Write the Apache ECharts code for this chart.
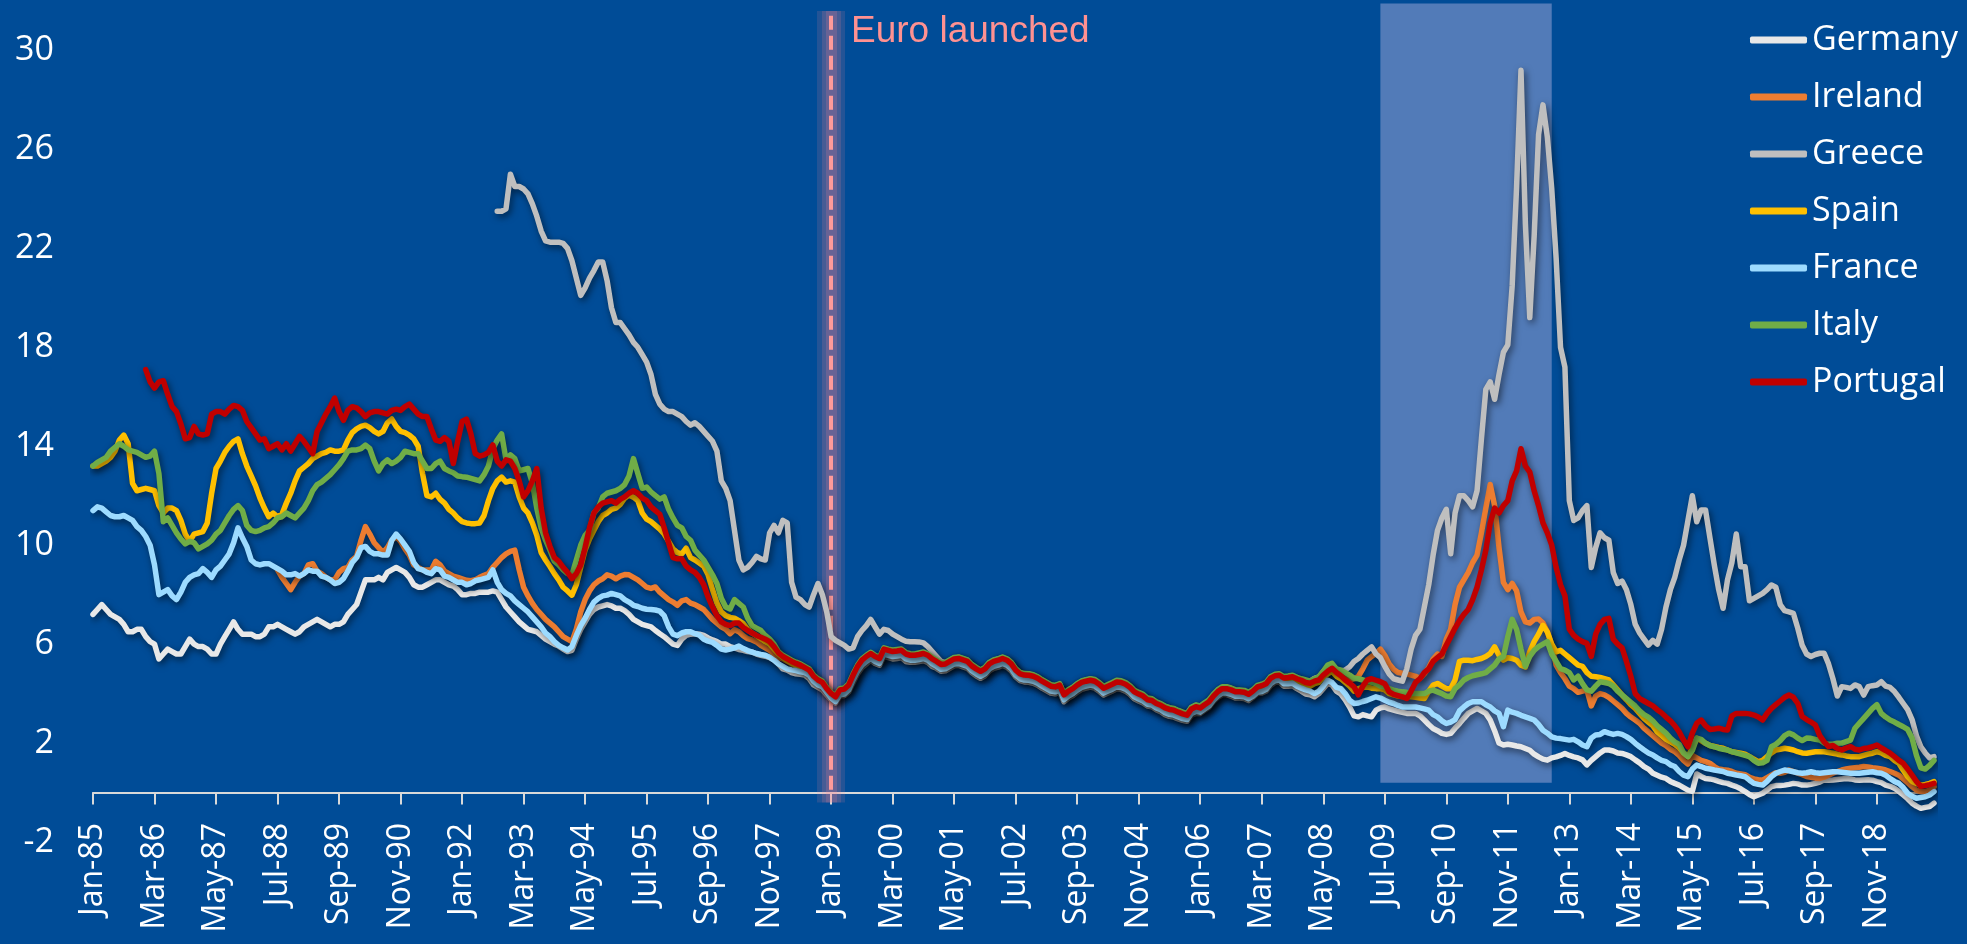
<!DOCTYPE html>
<html>
<head>
<meta charset="utf-8">
<title>10-year government bond yields</title>
<script src="https://cdn.jsdelivr.net/npm/echarts@6/dist/echarts.min.js"></script>
<style>
html, body { margin: 0; padding: 0; background: #004C97; }
#chart { width: 1967px; height: 944px; }
</style>
</head>
<body>
<div id="chart"></div>
<script>
// monthly categories Jan-85 .. Dec-19
var monthNames = ['Jan','Feb','Mar','Apr','May','Jun','Jul','Aug','Sep','Oct','Nov','Dec'];
var categories = [];
for (var y = 1985; y <= 2019; y++) {
    for (var m = 0; m < 12; m++) {
        categories.push(monthNames[m] + '-' + String(y).slice(2));
    }
}

var countries = ['Germany', 'Ireland', 'Greece', 'Spain', 'France', 'Italy', 'Portugal'];
var colors = ['#E8E8E8', '#ED7D31', '#BFBFBF', '#FFC000', '#9DDBFF', '#70AD47', '#C00000'];

var euroLaunch = 'Jan-99';
var crisisStart = 'Jun-09';
var crisisEnd = 'Sep-12';

var germany = [
 7.2, 7.4, 7.6, 7.4, 7.2, 7.1, 7.0, 6.8, 6.5, 6.5, 6.6, 6.6,
 6.3, 6.1, 6.0, 5.4, 5.6, 5.8, 5.7, 5.6, 5.6, 5.9, 6.2, 6.0,
 5.9, 5.9, 5.8, 5.6, 5.6, 6.0, 6.3, 6.6, 6.9, 6.6, 6.4, 6.4,
 6.4, 6.3, 6.3, 6.4, 6.7, 6.7, 6.8, 6.7, 6.6, 6.5, 6.4, 6.5,
 6.7, 6.8, 6.9, 7.0, 6.9, 6.8, 6.7, 6.8, 6.8, 6.9, 7.2, 7.4,
 7.6, 8.1, 8.6, 8.6, 8.6, 8.7, 8.6, 8.9, 9.0, 9.1, 9.0, 8.9,
 8.7, 8.4, 8.3, 8.3, 8.4, 8.5, 8.6, 8.6, 8.5, 8.4, 8.35, 8.2,
 8.0, 8.0, 8.05, 8.05, 8.1, 8.1, 8.1, 8.15, 8.1, 7.8, 7.5, 7.3,
 7.1, 6.9, 6.75, 6.6, 6.55, 6.5, 6.35, 6.2, 6.1, 6.0, 5.92, 5.8,
 5.7, 5.75, 6.2, 6.6, 6.9, 7.2, 7.4, 7.5, 7.55, 7.6, 7.55, 7.45,
 7.45, 7.35, 7.2, 7.0, 6.9, 6.8, 6.75, 6.7, 6.55, 6.42, 6.3, 6.15,
 6.0, 5.95, 6.2, 6.35, 6.4, 6.42, 6.4, 6.35, 6.25, 6.17, 6.1, 6.0,
 6.0, 5.9, 5.85, 5.78, 5.75, 5.7, 5.68, 5.6, 5.55, 5.51, 5.45, 5.35,
 5.2, 5.0, 4.95, 4.85, 4.8, 4.78, 4.75, 4.6, 4.35, 4.25, 4.15, 3.95,
 3.75, 3.62, 3.9, 3.92, 4.08, 4.45, 4.8, 5.05, 5.2, 5.35, 5.22, 5.15,
 5.5, 5.45, 5.4, 5.42, 5.45, 5.3, 5.27, 5.27, 5.3, 5.33, 5.26, 5.1,
 5.02, 4.9, 4.92, 5.02, 5.12, 5.14, 5.08, 5.02, 4.85, 4.72, 4.62, 4.72,
 4.92, 5.02, 5.07, 5.14, 5.07, 4.92, 4.67, 4.52, 4.47, 4.46, 4.42, 4.34,
 4.22, 4.12, 4.02, 3.99, 4.06, 3.67, 3.82, 3.92, 4.06, 4.17, 4.22, 4.26,
 4.22, 4.1, 3.94, 4.02, 4.1, 4.19, 4.17, 4.1, 3.97, 3.79, 3.7, 3.62,
 3.5, 3.47, 3.35, 3.27, 3.15, 3.08, 3.05, 2.98, 2.92, 2.88, 3.12, 3.2,
 3.2, 3.33, 3.45, 3.68, 3.85, 3.96, 3.96, 3.9, 3.82, 3.82, 3.8, 3.72,
 3.85, 4.0, 4.02, 4.1, 4.32, 4.45, 4.48, 4.3, 4.3, 4.32, 4.2, 4.1,
 3.98, 3.95, 3.87, 4.0, 4.2, 4.41, 4.35, 4.1, 3.98, 3.75, 3.46, 3.1,
 3.06, 3.15, 3.1, 3.06, 3.33, 3.42, 3.46, 3.38, 3.33, 3.28, 3.24, 3.2,
 3.2, 3.2, 3.1, 2.93, 2.75, 2.59, 2.5, 2.39, 2.35, 2.39, 2.6, 2.79,
 3.0, 3.2, 3.3, 3.4, 3.3, 3.2, 2.93, 2.5, 2.0, 1.92, 1.95, 1.92,
 1.88, 1.85, 1.78, 1.71, 1.55, 1.44, 1.35, 1.31, 1.4, 1.44, 1.5, 1.58,
 1.5, 1.44, 1.4, 1.32, 1.12, 1.3, 1.45, 1.6, 1.72, 1.72, 1.68, 1.6,
 1.58, 1.52, 1.45, 1.32, 1.2, 1.05, 0.95, 0.78, 0.7, 0.62, 0.57, 0.45,
 0.37, 0.3, 0.2, 0.1, 0.05, 0.75, 0.65, 0.57, 0.55, 0.51, 0.45, 0.4,
 0.37, 0.3, 0.24, 0.15, 0.04, -0.08, -0.17, -0.1, -0.03, 0.1, 0.24, 0.28,
 0.28, 0.3, 0.33, 0.37, 0.35, 0.3, 0.3, 0.33, 0.37, 0.42, 0.51, 0.5,
 0.51, 0.53, 0.55, 0.57, 0.55, 0.51, 0.5, 0.51, 0.52, 0.5, 0.44, 0.4,
 0.3, 0.25, 0.17, 0.05, -0.1, -0.25, -0.43, -0.55, -0.64, -0.6, -0.57, -0.43
];

var ireland = [
 null, null, null, null, null, null, null, null, null, null, null, null,
 null, null, null, null, null, null, null, null, null, null, null, null,
 null, null, null, null, null, null, null, null, null, null, null, null,
 null, null, null, null, null, null, 9.0, 8.7, 8.45, 8.2, 8.5, 8.75,
 8.85, 9.2, 9.25, 8.95, 8.85, 8.7, 8.6, 8.6, 8.9, 9.05, 9.1, 9.4,
 9.55, 10.2, 10.75, 10.45, 10.1, 9.9, 9.7, 9.9, 10.2, 10.35, 10.15, 9.85,
 9.6, 9.2, 9.1, 9.0, 9.0, 9.0, 9.35, 9.2, 8.95, 8.85, 8.75, 8.7,
 8.64, 8.58, 8.56, 8.6, 8.7, 8.78, 8.85, 9.1, 9.3, 9.5, 9.65, 9.75,
 9.8, 9.0, 8.3, 7.95, 7.65, 7.4, 7.2, 7.0, 6.85, 6.7, 6.5, 6.3,
 6.2, 6.1, 6.6, 7.3, 7.8, 8.15, 8.4, 8.55, 8.64, 8.8, 8.75, 8.64,
 8.75, 8.81, 8.8, 8.7, 8.6, 8.45, 8.3, 8.25, 8.31, 8.1, 7.95, 7.8,
 7.7, 7.57, 7.75, 7.8, 7.66, 7.6, 7.5, 7.4, 7.2, 7.0, 6.85, 6.7,
 6.6, 6.42, 6.58, 6.5, 6.34, 6.22, 6.17, 6.09, 5.95, 5.85, 5.75, 5.6,
 5.45, 5.4, 5.3, 5.2, 5.12, 5.05, 4.97, 4.85, 4.58, 4.42, 4.33, 4.08,
 3.9, 3.75, 4.03, 4.06, 4.22, 4.63, 4.98, 5.22, 5.38, 5.5, 5.38, 5.3,
 5.68, 5.63, 5.58, 5.6, 5.63, 5.48, 5.43, 5.43, 5.46, 5.5, 5.43, 5.28,
 5.18, 5.06, 5.08, 5.18, 5.28, 5.3, 5.24, 5.18, 5.0, 4.88, 4.78, 4.88,
 5.08, 5.18, 5.23, 5.3, 5.23, 5.08, 4.83, 4.68, 4.63, 4.62, 4.58, 4.5,
 4.38, 4.28, 4.18, 4.15, 4.22, 3.83, 3.98, 4.08, 4.22, 4.33, 4.38, 4.42,
 4.38, 4.26, 4.1, 4.18, 4.26, 4.35, 4.33, 4.26, 4.13, 3.95, 3.86, 3.78,
 3.64, 3.61, 3.49, 3.42, 3.31, 3.25, 3.22, 3.14, 3.07, 3.02, 3.27, 3.36,
 3.31, 3.44, 3.56, 3.79, 3.97, 4.09, 4.09, 4.04, 3.96, 3.96, 3.94, 3.86,
 3.98, 4.14, 4.19, 4.27, 4.49, 4.59, 4.61, 4.5, 4.52, 4.55, 4.47, 4.41,
 4.35, 4.3, 4.4, 4.5, 4.72, 4.92, 5.0, 4.8, 4.7, 4.6, 4.55, 4.6,
 4.7, 5.0, 5.35, 5.5, 5.62, 5.8, 5.55, 5.2, 4.98, 4.85, 4.82, 4.8,
 4.75, 4.7, 4.62, 4.8, 5.05, 5.4, 5.6, 5.5, 6.2, 6.6, 7.6, 8.3,
 8.6, 8.9, 9.3, 9.6, 10.5, 11.5, 12.45, 11.6, 9.9, 8.5, 8.2, 8.45,
 8.15, 7.3, 6.9, 6.85, 7.0, 7.02, 6.85, 6.5, 5.95, 5.15, 4.85, 4.6,
 4.3, 4.2, 4.05, 4.1, 4.15, 3.5, 3.9, 4.0, 3.95, 3.85, 3.7, 3.55,
 3.4, 3.2, 3.05, 2.93, 2.8, 2.6, 2.45, 2.3, 2.15, 2.0, 1.9, 1.75,
 1.65, 1.5, 1.3, 1.15, 1.5, 1.4, 1.3, 1.25, 1.18, 1.05, 0.95, 0.92,
 0.9, 0.85, 0.78, 0.75, 0.72, 0.62, 0.55, 0.52, 0.5, 0.6, 0.7, 0.8,
 0.78, 0.82, 0.91, 0.85, 0.78, 0.72, 0.65, 0.62, 0.58, 0.57, 0.62, 0.7,
 0.78, 0.85, 0.91, 0.95, 0.98, 1.0, 1.02, 1.05, 1.03, 1.0, 0.98, 0.95,
 0.91, 0.85, 0.78, 0.7, 0.55, 0.4, 0.24, 0.1, 0.04, 0.03, 0.1, 0.24
];

var greece = [
 null, null, null, null, null, null, null, null, null, null, null, null,
 null, null, null, null, null, null, null, null, null, null, null, null,
 null, null, null, null, null, null, null, null, null, null, null, null,
 null, null, null, null, null, null, null, null, null, null, null, null,
 null, null, null, null, null, null, null, null, null, null, null, null,
 null, null, null, null, null, null, null, null, null, null, null, null,
 null, null, null, null, null, null, null, null, null, null, null, null,
 null, null, null, null, null, null, null, null, 23.5, 23.5, 23.6, 25.0,
 24.5, 24.5, 24.4, 24.2, 23.8, 23.3, 22.7, 22.3, 22.25, 22.25, 22.25, 22.2,
 22.0, 21.5, 20.8, 20.1, 20.4, 20.8, 21.1, 21.45, 21.45, 20.7, 19.6, 19.0,
 19.0, 18.75, 18.5, 18.2, 18.0, 17.7, 17.4, 16.9, 16.1, 15.7, 15.5, 15.4,
 15.4, 15.3, 15.2, 15.0, 14.85, 14.95, 14.8, 14.6, 14.4, 14.2, 13.8, 12.6,
 12.3, 11.8, 10.6, 9.4, 9.0, 9.1, 9.3, 9.55, 9.45, 9.4, 10.5, 10.8,
 10.5, 11.0, 10.9, 8.5, 7.9, 7.8, 7.6, 7.5, 8.0, 8.45, 8.0, 7.3,
 6.3, 6.15, 6.05, 5.95, 5.8, 5.85, 6.3, 6.55, 6.75, 7.0, 6.7, 6.4,
 6.6, 6.55, 6.4, 6.3, 6.2, 6.12, 6.1, 6.1, 6.09, 6.05, 5.9, 5.7,
 5.5, 5.3, 5.25, 5.34, 5.44, 5.46, 5.4, 5.34, 5.16, 5.04, 4.94, 5.04,
 5.24, 5.34, 5.39, 5.46, 5.39, 5.24, 4.99, 4.84, 4.79, 4.78, 4.74, 4.66,
 4.54, 4.44, 4.34, 4.31, 4.38, 3.99, 4.14, 4.24, 4.38, 4.49, 4.54, 4.58,
 4.54, 4.42, 4.26, 4.34, 4.42, 4.51, 4.49, 4.42, 4.29, 4.11, 4.02, 3.94,
 3.8, 3.77, 3.65, 3.58, 3.47, 3.41, 3.38, 3.3, 3.23, 3.18, 3.43, 3.52,
 3.47, 3.6, 3.72, 3.95, 4.13, 4.25, 4.25, 4.2, 4.12, 4.12, 4.1, 4.02,
 4.13, 4.3, 4.35, 4.43, 4.65, 4.75, 4.77, 4.66, 4.68, 4.71, 4.63, 4.57,
 4.5, 4.5, 4.62, 4.68, 4.88, 5.05, 5.12, 4.98, 4.92, 4.95, 5.08, 5.3,
 5.42, 5.6, 5.75, 5.89, 5.6, 5.45, 5.1, 4.8, 4.6, 4.55, 4.5, 5.0,
 5.8, 6.35, 6.6, 7.5, 8.4, 9.6, 10.6, 11.1, 11.45, 9.65, 11.3, 12.0,
 12.0, 11.8, 11.55, 12.2, 14.3, 16.3, 16.6, 15.9, 16.9, 17.8, 18.1, 20.5,
 24.5, 29.2, 23.0, 19.2, 22.5, 26.6, 27.8, 26.5, 24.4, 21.6, 18.0, 17.2,
 11.8, 11.0, 11.1, 11.4, 11.6, 9.1, 9.9, 10.5, 10.3, 10.2, 8.9, 8.45,
 8.55, 8.2, 7.6, 6.8, 6.45, 6.2, 5.96, 6.15, 6.0, 6.6, 7.5, 8.2,
 8.7, 9.4, 10.0, 11.0, 12.0, 10.95, 11.42, 11.42, 10.3, 9.2, 8.2, 7.45,
 8.6, 9.3, 10.45, 9.13, 9.13, 7.75, 7.85, 7.95, 8.05, 8.2, 8.39, 8.3,
 7.6, 7.35, 7.3, 7.24, 6.64, 5.95, 5.6, 5.5, 5.58, 5.63, 5.63, 5.2,
 4.6, 3.9, 4.28, 4.25, 4.21, 4.35, 4.28, 3.94, 4.28, 4.32, 4.35, 4.48,
 4.3, 4.25, 4.08, 3.85, 3.6, 3.35, 2.95, 2.3, 1.85, 1.6, 1.4, 1.45
];

var spain = [
 13.2, 13.2, 13.3, 13.4, 13.55, 13.8, 14.25, 14.45, 14.1, 12.5, 12.2, 12.25,
 12.3, 12.25, 12.2, 11.6, 11.3, 11.5, 11.5, 11.4, 11.0, 10.45, 10.15, 10.45,
 10.5, 10.55, 10.9, 12.1, 13.1, 13.4, 13.75, 14.0, 14.2, 14.3, 13.7, 13.2,
 12.8, 12.4, 11.9, 11.5, 11.15, 11.3, 11.15, 11.25, 11.7, 12.1, 12.6, 13.0,
 13.15, 13.3, 13.5, 13.6, 13.7, 13.75, 13.85, 13.8, 13.8, 13.85, 14.25, 14.55,
 14.7, 14.8, 14.85, 14.75, 14.6, 14.5, 14.6, 14.95, 15.1, 14.8, 14.6, 14.55,
 14.45, 14.3, 14.0, 12.9, 12.0, 11.95, 12.1, 11.85, 11.7, 11.45, 11.3, 11.1,
 10.95, 10.9, 10.87, 10.87, 10.9, 11.2, 11.8, 12.3, 12.6, 12.75, 12.55, 12.6,
 12.55, 11.95, 11.5, 11.3, 10.9, 10.4, 9.7, 9.4, 9.14, 8.85, 8.6, 8.3,
 8.15, 7.98, 8.4, 9.1, 9.8, 10.25, 10.6, 10.95, 11.2, 11.3, 11.45, 11.5,
 11.65, 11.9, 12.03, 11.94, 11.8, 11.3, 11.05, 10.95, 10.8, 10.65, 10.45, 10.15,
 9.85, 9.7, 9.65, 9.88, 9.5, 9.4, 9.28, 9.15, 8.8, 8.2, 7.66, 7.3,
 7.15, 7.08, 7.05, 6.95, 6.83, 6.6, 6.45, 6.34, 6.22, 6.1, 6.0, 5.8,
 5.6, 5.45, 5.33, 5.23, 5.15, 5.08, 5.0, 4.88, 4.62, 4.47, 4.37, 4.12,
 3.9, 3.77, 4.05, 4.08, 4.25, 4.65, 5.0, 5.25, 5.4, 5.52, 5.4, 5.32,
 5.7, 5.65, 5.6, 5.62, 5.65, 5.5, 5.45, 5.45, 5.48, 5.52, 5.45, 5.3,
 5.2, 5.08, 5.1, 5.2, 5.3, 5.32, 5.26, 5.2, 5.02, 4.9, 4.8, 4.9,
 5.1, 5.2, 5.25, 5.32, 5.25, 5.1, 4.85, 4.7, 4.65, 4.64, 4.6, 4.52,
 4.4, 4.3, 4.2, 4.17, 4.24, 3.85, 4.0, 4.1, 4.24, 4.35, 4.4, 4.44,
 4.4, 4.28, 4.12, 4.2, 4.28, 4.37, 4.35, 4.28, 4.15, 3.97, 3.88, 3.8,
 3.65, 3.62, 3.5, 3.43, 3.32, 3.26, 3.23, 3.15, 3.08, 3.03, 3.28, 3.37,
 3.32, 3.45, 3.57, 3.8, 3.98, 4.1, 4.1, 4.05, 3.97, 3.97, 3.95, 3.87,
 3.98, 4.14, 4.19, 4.27, 4.49, 4.59, 4.61, 4.5, 4.5, 4.52, 4.42, 4.35,
 4.35, 4.3, 4.4, 4.45, 4.65, 4.8, 4.9, 4.7, 4.6, 4.45, 4.3, 4.1,
 4.2, 4.25, 4.27, 4.22, 4.2, 4.2, 4.15, 4.0, 3.95, 3.9, 3.88, 3.87,
 3.87, 3.85, 3.82, 3.8, 4.1, 4.34, 4.41, 4.3, 4.2, 4.2, 4.55, 5.3,
 5.35, 5.35, 5.33, 5.38, 5.42, 5.5, 5.62, 5.89, 5.55, 5.35, 5.45, 5.42,
 5.35, 5.15, 5.08, 5.7, 6.1, 6.4, 6.76, 6.49, 6.0, 5.69, 5.75, 5.6,
 5.45, 5.3, 5.15, 5.1, 4.85, 4.7, 4.68, 4.65, 4.6, 4.55, 4.35, 4.15,
 3.94, 3.75, 3.55, 3.4, 3.2, 3.0, 2.85, 2.7, 2.45, 2.3, 2.15, 2.05,
 1.95, 1.8, 1.6, 1.45, 1.8, 2.19, 2.1, 1.99, 1.9, 1.86, 1.82, 1.79,
 1.72, 1.65, 1.62, 1.59, 1.55, 1.45, 1.35, 1.25, 1.3, 1.45, 1.6, 1.72,
 1.75, 1.79, 1.76, 1.72, 1.65, 1.6, 1.59, 1.62, 1.65, 1.65, 1.65, 1.62,
 1.59, 1.55, 1.52, 1.48, 1.45, 1.45, 1.45, 1.5, 1.55, 1.59, 1.65, 1.6,
 1.5, 1.45, 1.3, 1.18, 0.9, 0.64, 0.45, 0.37, 0.3, 0.33, 0.37, 0.44
];

var france = [
 11.4, 11.55, 11.5, 11.35, 11.2, 11.15, 11.15, 11.2, 11.1, 11.0, 10.75, 10.6,
 10.35, 10.0, 9.2, 8.0, 8.1, 8.2, 7.95, 7.8, 8.1, 8.5, 8.7, 8.8,
 8.85, 9.05, 8.9, 8.7, 9.0, 9.15, 9.4, 9.65, 10.1, 10.7, 10.3, 9.95,
 9.4, 9.25, 9.2, 9.25, 9.25, 9.15, 9.05, 8.95, 8.8, 8.8, 8.85, 8.75,
 8.85, 9.0, 8.95, 8.95, 8.75, 8.7, 8.6, 8.45, 8.5, 8.65, 8.95, 9.3,
 9.5, 9.9, 9.95, 9.75, 9.65, 9.65, 9.6, 9.6, 10.2, 10.45, 10.25, 10.0,
 9.75, 9.3, 9.05, 9.0, 8.9, 8.85, 9.05, 9.0, 8.75, 8.7, 8.6, 8.5,
 8.5, 8.4, 8.45, 8.56, 8.6, 8.65, 8.7, 9.0, 8.5, 8.2, 8.05, 7.95,
 7.75, 7.6, 7.45, 7.3, 7.1, 6.9, 6.7, 6.45, 6.3, 6.1, 5.95, 5.85,
 5.76, 5.9, 6.35, 6.75, 7.05, 7.4, 7.7, 7.85, 7.95, 7.98, 8.05, 8.0,
 7.95, 7.8, 7.7, 7.57, 7.52, 7.45, 7.41, 7.4, 7.38, 7.33, 7.15, 6.7,
 6.4, 6.34, 6.45, 6.5, 6.5, 6.42, 6.36, 6.2, 6.12, 6.07, 5.95, 5.8,
 5.76, 5.8, 5.85, 5.92, 5.82, 5.74, 5.68, 5.62, 5.58, 5.55, 5.47, 5.35,
 5.2, 5.1, 5.0, 4.96, 4.93, 4.88, 4.85, 4.75, 4.5, 4.35, 4.28, 4.05,
 3.82, 3.68, 3.95, 3.98, 4.15, 4.55, 4.9, 5.15, 5.3, 5.42, 5.3, 5.22,
 5.6, 5.55, 5.5, 5.52, 5.55, 5.4, 5.35, 5.35, 5.38, 5.42, 5.35, 5.2,
 5.1, 4.98, 5.0, 5.1, 5.2, 5.22, 5.16, 5.1, 4.92, 4.8, 4.7, 4.8,
 5.0, 5.1, 5.15, 5.22, 5.15, 5.0, 4.75, 4.6, 4.55, 4.54, 4.5, 4.42,
 4.3, 4.2, 4.1, 4.07, 4.14, 3.75, 3.9, 4.0, 4.14, 4.25, 4.3, 4.34,
 4.3, 4.18, 4.02, 4.1, 4.18, 4.27, 4.25, 4.18, 4.05, 3.87, 3.78, 3.7,
 3.57, 3.54, 3.42, 3.35, 3.23, 3.16, 3.13, 3.06, 2.99, 2.95, 3.2, 3.28,
 3.25, 3.38, 3.5, 3.73, 3.9, 4.02, 4.02, 3.97, 3.89, 3.89, 3.87, 3.79,
 3.9, 4.05, 4.08, 4.17, 4.4, 4.52, 4.55, 4.4, 4.4, 4.42, 4.3, 4.22,
 4.15, 4.1, 4.0, 4.1, 4.3, 4.54, 4.45, 4.25, 4.2, 4.0, 3.73, 3.6,
 3.62, 3.68, 3.73, 3.8, 3.87, 3.82, 3.73, 3.65, 3.6, 3.52, 3.46, 3.46,
 3.46, 3.46, 3.42, 3.38, 3.33, 3.15, 3.06, 2.9, 2.79, 2.85, 2.95, 3.3,
 3.46, 3.6, 3.67, 3.67, 3.67, 3.55, 3.46, 3.3, 3.2, 2.66, 3.33, 3.25,
 3.2, 3.12, 3.06, 3.0, 2.93, 2.75, 2.52, 2.4, 2.25, 2.2, 2.18, 2.15,
 2.12, 2.15, 2.05, 1.92, 1.85, 2.2, 2.33, 2.35, 2.46, 2.4, 2.35, 2.39,
 2.35, 2.26, 2.15, 1.99, 1.85, 1.72, 1.6, 1.52, 1.4, 1.3, 1.25, 1.12,
 1.05, 0.85, 0.7, 0.64, 0.95, 1.11, 1.05, 0.98, 0.95, 0.91, 0.88, 0.85,
 0.78, 0.75, 0.71, 0.68, 0.64, 0.5, 0.37, 0.33, 0.3, 0.45, 0.64, 0.78,
 0.85, 0.91, 0.88, 0.84, 0.8, 0.78, 0.8, 0.84, 0.8, 0.78, 0.8, 0.82,
 0.84, 0.84, 0.82, 0.8, 0.78, 0.78, 0.78, 0.8, 0.82, 0.84, 0.8, 0.78,
 0.7, 0.57, 0.45, 0.37, 0.2, -0.03, -0.15, -0.23, -0.2, -0.17, -0.1, 0.04
];

var italy = [
 13.2, 13.35, 13.45, 13.55, 13.8, 13.95, 14.1, 14.0, 13.85, 13.8, 13.75, 13.65,
 13.55, 13.6, 13.8, 12.9, 10.95, 11.1, 10.8, 10.5, 10.25, 10.05, 10.15, 10.1,
 9.85, 9.95, 10.05, 10.2, 10.45, 10.6, 10.9, 11.2, 11.45, 11.6, 11.4, 10.8,
 10.6, 10.55, 10.6, 10.7, 10.75, 10.9, 11.1, 11.15, 11.3, 11.2, 11.1, 11.3,
 11.5, 11.8, 12.2, 12.45, 12.55, 12.7, 12.85, 13.05, 13.25, 13.5, 13.8, 13.85,
 13.85, 13.9, 14.05, 13.9, 13.4, 13.0, 13.3, 13.45, 13.3, 13.4, 13.55, 13.8,
 13.75, 13.7, 13.7, 13.4, 13.1, 13.1, 13.3, 13.4, 13.1, 13.0, 12.93, 12.8,
 12.77, 12.75, 12.7, 12.65, 12.6, 12.85, 13.2, 13.9, 14.25, 14.5, 13.45, 13.65,
 13.5, 13.0, 13.05, 13.1, 12.5, 11.5, 10.7, 10.2, 9.8, 9.35, 9.2, 9.0,
 8.85, 8.8, 9.4, 10.0, 10.4, 10.6, 11.3, 11.5, 11.95, 12.1, 12.15, 12.2,
 12.3, 12.45, 12.8, 13.5, 12.9, 12.3, 12.35, 12.15, 12.0, 11.86, 11.95, 11.45,
 11.1, 10.8, 10.7, 10.35, 10.2, 9.8, 9.6, 9.4, 9.1, 8.8, 8.45, 7.85,
 7.5, 7.42, 7.8, 7.65, 7.5, 7.05, 6.75, 6.65, 6.55, 6.35, 6.2, 6.0,
 5.7, 5.55, 5.45, 5.35, 5.27, 5.2, 5.1, 5.0, 4.75, 4.6, 4.5, 4.25,
 4.05, 3.92, 4.2, 4.23, 4.4, 4.8, 5.15, 5.4, 5.55, 5.67, 5.55, 5.47,
 5.85, 5.8, 5.76, 5.78, 5.8, 5.66, 5.61, 5.6, 5.64, 5.68, 5.6, 5.46,
 5.36, 5.24, 5.26, 5.36, 5.46, 5.48, 5.42, 5.36, 5.18, 5.06, 4.96, 5.06,
 5.26, 5.36, 5.41, 5.48, 5.41, 5.26, 5.01, 4.86, 4.81, 4.8, 4.76, 4.68,
 4.56, 4.46, 4.36, 4.33, 4.4, 4.01, 4.16, 4.26, 4.4, 4.51, 4.56, 4.6,
 4.57, 4.45, 4.29, 4.37, 4.45, 4.54, 4.52, 4.45, 4.32, 4.14, 4.05, 3.97,
 3.82, 3.79, 3.67, 3.6, 3.49, 3.43, 3.4, 3.32, 3.25, 3.2, 3.45, 3.54,
 3.5, 3.63, 3.75, 3.98, 4.16, 4.28, 4.28, 4.23, 4.15, 4.15, 4.13, 4.05,
 4.16, 4.33, 4.38, 4.46, 4.68, 4.78, 4.8, 4.69, 4.71, 4.74, 4.66, 4.6,
 4.55, 4.5, 4.6, 4.68, 4.9, 5.15, 5.22, 5.0, 4.95, 4.85, 4.75, 4.62,
 4.6, 4.55, 4.5, 4.45, 4.4, 4.3, 4.27, 4.2, 4.14, 4.1, 4.07, 4.05,
 4.0, 4.0, 4.0, 4.0, 4.1, 4.14, 4.07, 4.0, 3.9, 3.87, 4.2, 4.35,
 4.55, 4.65, 4.72, 4.76, 4.8, 4.85, 5.0, 5.15, 5.4, 5.5, 6.3, 7.0,
 6.6, 5.8, 5.1, 5.5, 5.75, 5.9, 6.0, 6.1, 5.6, 5.3, 5.01, 4.95,
 4.85, 4.55, 4.7, 4.4, 4.15, 4.1, 4.3, 4.48, 4.45, 4.41, 4.3, 4.1,
 3.95, 3.8, 3.65, 3.5, 3.3, 3.15, 3.05, 2.9, 2.7, 2.55, 2.4, 2.2,
 2.05, 1.95, 1.6, 1.45, 1.7, 2.2, 2.15, 1.99, 1.9, 1.85, 1.79, 1.75,
 1.72, 1.65, 1.6, 1.55, 1.5, 1.45, 1.3, 1.18, 1.2, 1.3, 1.85, 1.95,
 2.1, 2.3, 2.4, 2.33, 2.2, 2.1, 2.2, 2.19, 2.15, 2.12, 2.0, 1.95,
 1.95, 1.99, 2.0, 2.06, 2.12, 2.6, 2.8, 3.0, 3.2, 3.4, 3.55, 3.2,
 3.05, 2.93, 2.85, 2.75, 2.66, 2.55, 2.2, 1.5, 1.0, 0.95, 1.1, 1.3
];

var portugal = [
 null, null, null, null, null, null, null, null, null, null, null, null,
 17.1, 16.6, 16.35, 16.6, 16.65, 16.1, 15.6, 15.4, 14.9, 14.3, 14.35, 14.8,
 14.5, 14.45, 14.5, 15.3, 15.4, 15.4, 15.3, 15.5, 15.65, 15.6, 15.45, 15.0,
 14.75, 14.5, 14.25, 14.3, 13.9, 14.0, 14.1, 13.85, 14.1, 13.8, 14.1, 14.4,
 14.2, 13.95, 13.7, 14.6, 14.95, 15.3, 15.6, 15.95, 15.4, 15.05, 15.45, 15.6,
 15.55, 15.4, 15.2, 15.35, 15.4, 15.4, 15.35, 15.3, 15.45, 15.5, 15.45, 15.6,
 15.7, 15.5, 15.3, 15.2, 15.2, 14.7, 14.25, 14.2, 14.35, 14.2, 13.3, 14.2,
 15.0, 15.1, 14.5, 13.7, 13.6, 13.65, 13.75, 14.05, 13.4, 13.2, 13.45, 13.4,
 13.1, 12.6, 11.95, 12.2, 12.6, 13.1, 11.5, 10.5, 9.95, 9.5, 9.35, 9.1,
 8.9, 8.65, 8.85, 9.2, 9.9, 10.7, 11.3, 11.55, 11.7, 11.75, 11.8, 11.7,
 11.85, 11.95, 12.1, 12.2, 12.1, 11.9, 11.8, 11.55, 11.4, 11.25, 10.7, 10.1,
 9.5, 9.45, 9.45, 9.15, 9.0, 8.9, 8.7, 8.4, 7.9, 7.5, 7.15, 6.9,
 6.8, 6.75, 6.85, 6.85, 6.67, 6.55, 6.45, 6.35, 6.28, 6.2, 6.1, 5.9,
 5.65, 5.5, 5.4, 5.3, 5.22, 5.15, 5.05, 4.95, 4.7, 4.55, 4.45, 4.2,
 4.0, 3.87, 4.15, 4.18, 4.35, 4.75, 5.1, 5.35, 5.5, 5.62, 5.5, 5.42,
 5.8, 5.75, 5.7, 5.72, 5.75, 5.6, 5.55, 5.55, 5.58, 5.62, 5.55, 5.4,
 5.3, 5.18, 5.2, 5.3, 5.4, 5.42, 5.36, 5.3, 5.12, 5.0, 4.9, 5.0,
 5.2, 5.3, 5.35, 5.42, 5.35, 5.2, 4.95, 4.8, 4.75, 4.74, 4.7, 4.62,
 4.5, 4.4, 4.3, 4.27, 4.34, 3.95, 4.1, 4.2, 4.34, 4.45, 4.5, 4.54,
 4.5, 4.38, 4.22, 4.3, 4.38, 4.47, 4.45, 4.38, 4.25, 4.07, 3.98, 3.9,
 3.75, 3.72, 3.6, 3.53, 3.42, 3.36, 3.33, 3.25, 3.18, 3.13, 3.38, 3.47,
 3.42, 3.55, 3.67, 3.9, 4.08, 4.2, 4.2, 4.15, 4.07, 4.07, 4.05, 3.97,
 4.1, 4.27, 4.32, 4.4, 4.62, 4.72, 4.74, 4.63, 4.65, 4.68, 4.6, 4.54,
 4.45, 4.42, 4.5, 4.55, 4.75, 4.9, 5.02, 4.85, 4.72, 4.55, 4.42, 4.27,
 3.95, 4.3, 4.55, 4.6, 4.54, 4.48, 4.4, 4.07, 3.97, 3.92, 3.87, 3.8,
 4.1, 4.45, 4.6, 4.85, 5.0, 5.3, 5.45, 5.6, 5.95, 6.3, 6.65, 6.95,
 7.2, 7.4, 7.8, 8.3, 9.0, 9.8, 10.9, 11.5, 11.3, 11.6, 11.8, 12.6,
 13.0, 13.9, 13.2, 12.95, 12.2, 11.6, 10.9, 10.5, 10.0, 9.1, 8.4, 7.95,
 6.6, 6.35, 6.2, 6.1, 6.03, 5.5, 6.4, 6.8, 7.0, 7.04, 6.2, 6.0,
 5.85, 5.3, 4.7, 4.0, 3.8, 3.7, 3.6, 3.5, 3.35, 3.22, 3.05, 2.9,
 2.7, 2.45, 2.12, 1.85, 2.4, 2.8, 2.93, 2.7, 2.55, 2.57, 2.6, 2.55,
 2.53, 3.1, 3.2, 3.2, 3.2, 3.18, 3.13, 3.05, 2.93, 3.2, 3.4, 3.55,
 3.7, 3.85, 3.94, 3.85, 3.6, 3.07, 2.95, 2.85, 2.73, 2.3, 2.05, 1.86,
 1.9, 1.78, 1.72, 1.8, 1.86, 1.75, 1.72, 1.78, 1.8, 1.85, 1.92, 1.8,
 1.7, 1.59, 1.45, 1.3, 1.18, 0.95, 0.7, 0.45, 0.25, 0.28, 0.32, 0.37
];

var seriesData = [germany, ireland, greece, spain, france, italy, portugal];

var chart = echarts.init(document.getElementById('chart'));

var lineSeries = countries.map(function (name, i) {
    return {
        name: name,
        type: 'line',
        data: seriesData[i],
        z: 3 + i,
        showSymbol: false,
        symbol: 'none',
        color: colors[i],
        emphasis: { disabled: true },
        lineStyle: {
            color: colors[i],
            width: 5.5,
            cap: 'round',
            join: 'round',
            shadowColor: 'rgba(0,0,0,0.55)',
            shadowBlur: 7,
            shadowOffsetX: 2,
            shadowOffsetY: 3
        }
    };
});

// shaded crisis period, under the lines
lineSeries.unshift({
    name: 'crisis',
    type: 'line',
    data: [],
    z: 1,
    silent: true,
    markArea: {
        silent: true,
        itemStyle: { color: '#527BB8' },
        data: [[{ xAxis: crisisStart, yAxis: 0.4 }, { xAxis: crisisEnd, yAxis: 31.9 }]]
    }
});

// euro launch marker (soft glow band + dashed line), over the lines
var glow = 'rgba(255,135,150,';
lineSeries.push({
    name: 'euro',
    type: 'line',
    data: [],
    z: 20,
    silent: true,
    markLine: {
        silent: true,
        symbol: ['none', 'none'],
        label: { show: false },
        data: [
            [{ coord: [euroLaunch, 31.6], lineStyle: { color: glow + '0.14)', width: 28, type: 'solid' } },
             { coord: [euroLaunch, -0.4] }],
            [{ coord: [euroLaunch, 31.6], lineStyle: { color: glow + '0.16)', width: 19, type: 'solid' } },
             { coord: [euroLaunch, -0.4] }],
            [{ coord: [euroLaunch, 31.6], lineStyle: { color: glow + '0.18)', width: 11, type: 'solid' } },
             { coord: [euroLaunch, -0.4] }],
            [{ coord: [euroLaunch, 31.4], lineStyle: { color: '#FF9A9A', width: 4, type: [14, 6] } },
             { coord: [euroLaunch, 0] }]
        ]
    }
});

var option = {
    backgroundColor: '#004C97',
    animation: false,
    textStyle: { fontFamily: 'Open Sans' },
    grid: {
        left: 93,
        right: 33,
        top: 1,
        bottom: 102,
        containLabel: false,
        outerBoundsMode: 'none'
    },
    legend: {
        data: countries,
        orient: 'vertical',
        left: 1745,
        top: 15,
        icon: 'roundRect',
        itemWidth: 57,
        itemHeight: 7,
        itemGap: 17,
        selectedMode: false,
        textStyle: { color: '#FFFFFF', fontSize: 34, fontFamily: 'Open Sans', lineHeight: 40 }
    },
    xAxis: [{
        // axis line and ticks sit on y = 0
        type: 'category',
        data: categories,
        boundaryGap: false,
        position: 'bottom',
        axisLine: { onZero: true, lineStyle: { color: '#D9D9D9', width: 2 } },
        axisTick: { show: true, interval: 13, length: 12, lineStyle: { color: '#D9D9D9', width: 2 } },
        axisLabel: { show: false },
        splitLine: { show: false }
    }, {
        // tick labels stay at the bottom of the plot
        type: 'category',
        data: categories,
        boundaryGap: false,
        position: 'bottom',
        axisLine: { show: false, onZero: false },
        axisTick: { show: false },
        axisLabel: {
            interval: 13,
            rotate: 90,
            margin: -19,
            color: '#FFFFFF',
            fontSize: 32,
            fontFamily: 'Open Sans'
        },
        splitLine: { show: false }
    }],
    yAxis: {
        type: 'value',
        min: -2,
        max: 32,
        interval: 4,
        axisLine: { show: false },
        axisTick: { show: false },
        splitLine: { show: false },
        axisLabel: {
            margin: 39,
            color: '#FFFFFF',
            fontSize: 34,
            fontFamily: 'Open Sans',
            formatter: function (v) { return v > 30 ? '' : v; }
        }
    },
    graphic: [{
        type: 'text',
        left: 851,
        top: 13,
        z: 30,
        style: {
            text: 'Euro launched',
            fill: '#FF9191',
            font: '37px "Liberation Sans", Arial, sans-serif'
        }
    }],
    series: lineSeries
};

chart.setOption(option);
</script>
</body>
</html>
